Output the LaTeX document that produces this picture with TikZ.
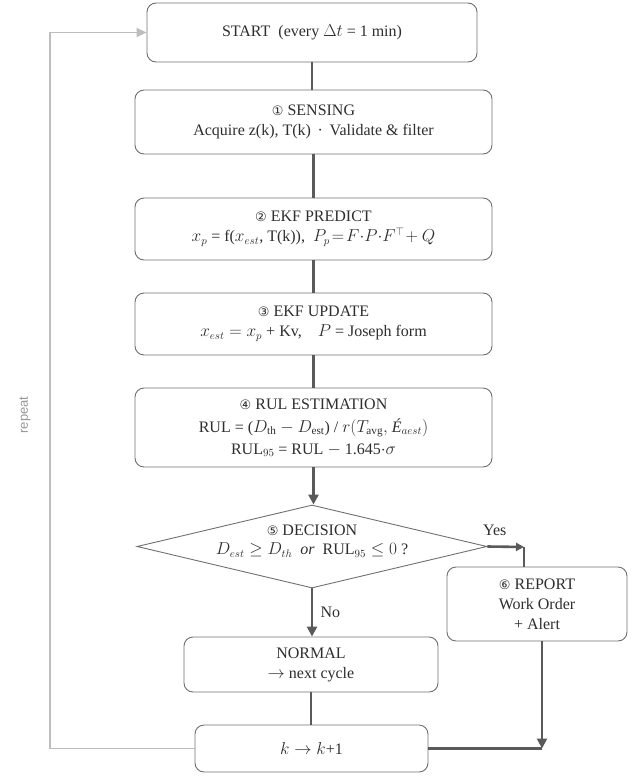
\documentclass[tikz,border=0pt]{standalone}
\usepackage{fontspec}
\setmainfont{Liberation Serif}
\newfontfamily\symfont{DejaVu Sans}
\newfontfamily\repfont{Liberation Sans}
\usetikzlibrary{arrows.meta,shapes.geometric}
\definecolor{bordercol}{HTML}{707070}
\definecolor{conncol}{HTML}{5A5A5A}
\definecolor{textcol}{HTML}{2E2E2E}
\definecolor{loopcol}{HTML}{BDBDBD}
\newcommand{\cnum}[1]{{\symfont\fontsize{13}{15}\selectfont #1}}
\tikzset{
  flowbox/.style={draw=bordercol, line width=0.9pt, rounded corners=9pt, fill=white,
    align=center, text=textcol, inner sep=0pt, font=\fontsize{16}{20}\selectfont},
  decbox/.style={draw=bordercol, line width=0.9pt, shape=diamond, fill=white, inner sep=0pt},
  conn/.style={draw=conncol, line width=2.6pt},
  connarrow/.style={conn, -{Triangle[length=10pt,width=10pt]}},
  loopline/.style={draw=loopcol, line width=1.8pt, -{Triangle[length=10pt,width=9pt]}},
  lbl/.style={text=textcol, font=\fontsize{16}{19}\selectfont}
}
\begin{document}
\begin{tikzpicture}[x=1pt,y=-1pt]
\useasboundingbox (0,0) rectangle (638,779);
% nodes
\node[flowbox, minimum width=330pt, minimum height=59pt] (start) at (312,32.5)
  {START\ \ (every $\Delta t$ = 1 min)};
\node[flowbox, minimum width=357pt, minimum height=64pt] (sens) at (313.5,122)
  {\cnum{①} SENSING\\Acquire z(k), T(k) \,·\, Validate \& filter};
\node[flowbox, minimum width=357pt, minimum height=62pt] (pred) at (313.5,229)
  {\cnum{②} EKF PREDICT\\$x_p$ = f($x_{est}$, T(k)),\ \ $P_p\!=\!F{\cdot}P{\cdot}F^{\top}\!+Q$};
\node[flowbox, minimum width=357pt, minimum height=62pt] (upd) at (313.5,324)
  {\cnum{③} EKF UPDATE\\$x_{est} = x_p$ + Kv,\quad $P$ = Joseph form};
\node[flowbox, minimum width=357pt, minimum height=79pt] (rul) at (313.5,427.5)
  {\cnum{④} RUL ESTIMATION\\[3pt]RUL = ($D_{\mathrm{th}} - D_{\mathrm{est}}$) / $r(T_{\mathrm{avg}},$ \textit{É}$_{aest})$\\[2pt]RUL$_{95}$ = RUL $-$ 1.645$\cdot\sigma$};
\node[decbox, minimum width=350pt, minimum height=83pt] (dec) at (312,546.5) {};
\node[lbl, align=center] (dectext) at (312,541)
  {\cnum{⑤} DECISION\\$D_{est} \ge D_{th}$\ \ \textit{or}\ \ RUL$_{95} \le 0$ ?};
\node[flowbox, minimum width=254pt, minimum height=55pt] (norm) at (311,664.5)
  {NORMAL\\$\rightarrow$ next cycle};
\node[flowbox, minimum width=233pt, minimum height=47pt] (knode) at (311.5,748.5)
  {$k \rightarrow k$+1};
\node[flowbox, minimum width=180pt, minimum height=74pt] (rep) at (537,604)
  {\cnum{⑥} REPORT\\Work Order\\+ Alert};
% helper coordinates
\coordinate (ycorner) at (524,547);
\coordinate (bx) at (542,0);
\coordinate (rx) at (50,0);
% main chain
\draw[conn] (start.south) -- (start.south |- sens.north);
\draw[conn] (sens.south) -- (sens.south |- pred.north);
\draw[conn] (pred.south) -- (pred.south |- upd.north);
\draw[conn] (upd.south) -- (upd.south |- rul.north);
\draw[connarrow] (rul.south) -- (rul.south |- dec.north);
\draw[connarrow] (dec.south) -- (dec.south |- norm.north)
  node[lbl, midway, right=4pt] (nolbl) {No};
\draw[conn] (norm.south) -- (norm.south |- knode.north);
% yes branch
\draw[conn, -{Triangle[length=8pt,width=8pt]}] (dec.east) -- (ycorner)
  node[lbl, pos=0.2, above=6pt] (yeslbl) {Yes};
\draw[conn] (ycorner) -- (ycorner |- rep.north);
\draw[connarrow] (rep.south -| bx) -- (knode.east -| bx);
\draw[conn] (knode.east) -- (knode.east -| bx);
% repeat loop
\draw[loopline] (knode.west) -- (knode.west -| rx) -- (start.west -| rx) -- (start.west);
\node[rotate=90, text=loopcol!80!black, font=\repfont\fontsize{13}{15}\selectfont] (replbl) at (25,415) {repeat};
\end{tikzpicture}
\end{document}
